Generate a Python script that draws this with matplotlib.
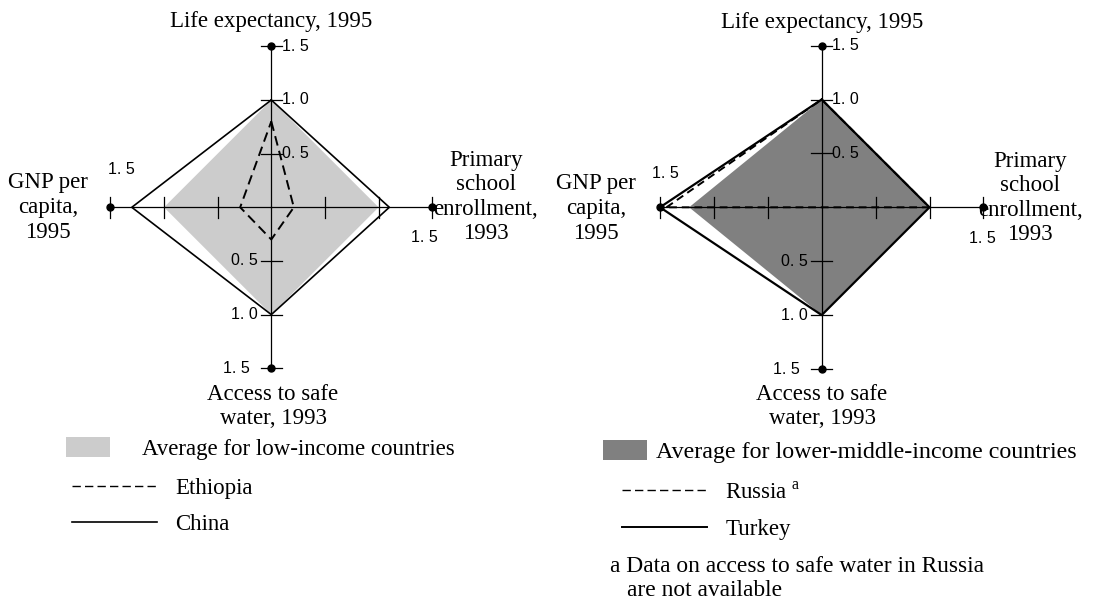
import numpy as np
import matplotlib.pyplot as plt
from matplotlib.lines import Line2D
from matplotlib.patches import Patch

plt.rcParams['font.family'] = 'Liberation Serif'
plt.rcParams['mathtext.fontset'] = 'custom'
plt.rcParams['mathtext.rm'] = 'Liberation Serif'

# order of the spokes: up, right, down, left
spokes = [['Life expectancy, 1995'],
          ['Primary', 'school', 'enrollment,', '1993'],
          ['Access to safe', 'water, 1993'],
          ['GNP per', 'capita,', '1995']]
tick_vals = [0.5, 1.0, 1.5]

low_income_avg = [1.0, 1.0, 1.0, 1.0]
ethiopia = [0.80, 0.21, 0.30, 0.29]
china = [1.0, 1.10, 1.0, 1.30]

lower_middle_avg = [1.0, 1.0, 1.0, 1.23]
russia = [1.0, 1.0, np.nan, 1.44]   # no water data
turkey = [1.0, 1.0, 1.0, 1.5]

W, H, DPI = 1096, 601, 100
FS = 16.5
FS_R = 17.3
TFS = 11.5
fig = plt.figure(figsize=(W / DPI, H / DPI), dpi=DPI)

dirs = np.array([[0, 1], [1, 0], [0, -1], [-1, 0]])


def radar_axes(cx, cy, s, R=2.6):
    ax = fig.add_axes([(cx - R * s) / W, 1 - (cy + R * s) / H, 2 * R * s / W, 2 * R * s / H])
    ax.set_xlim(-R, R)
    ax.set_ylim(-R, R)
    ax.axis('off')
    ax.cx, ax.cy, ax.s = cx, cy, s
    return ax


def to_xy(vals):
    vals = np.asarray(vals, dtype=float)
    ok = ~np.isnan(vals)
    idx = list(range(4))
    if not ok.all():
        # start after the missing spoke so the outline skips it
        miss = int(np.where(~ok)[0][0])
        idx = [(miss + 1 + k) % 4 for k in range(4) if ok[(miss + 1 + k) % 4]]
    idx = idx + [idx[0]]
    x = np.array([vals[i] * dirs[i][0] for i in idx])
    y = np.array([vals[i] * dirs[i][1] for i in idx])
    return x, y


def ptext(ax, px, py, s, **kw):
    # place text by pixel position of the figure
    ax.text((px - ax.cx) / ax.s, (ax.cy - py) / ax.s, s, **kw)


def frame(ax, lab_px, hl_px):
    for d in dirs:
        ax.plot([0, 1.5 * d[0]], [0, 1.5 * d[1]], color='k', lw=0.9, zorder=3)
        ax.plot(1.5 * d[0], 1.5 * d[1], 'o', color='k', ms=5, zorder=4)
        for v in tick_vals:
            px, py = v * d[0], v * d[1]
            ax.plot([px - 0.1 * abs(d[1]), px + 0.1 * abs(d[1])],
                    [py - 0.1 * abs(d[0]), py + 0.1 * abs(d[0])], color='k', lw=0.9, zorder=3)
    for v in tick_vals:
        t = f'{v:.1f}'.replace('.', '. ')
        ax.text(0.1, v, t, ha='left', va='center', family='Liberation Sans', fontsize=TFS)
        ax.text(-0.13 if v < 1.5 else -0.2, -v, t, ha='right', va='center',
                family='Liberation Sans', fontsize=TFS)
    for (px, py) in hl_px:
        ptext(ax, px, py, '1. 5', ha='center', va='center',
              family='Liberation Sans', fontsize=TFS)
    for lines, (px, ys) in zip(spokes, lab_px):
        for line, py in zip(lines, ys):
            ptext(ax, px, py, line, ha='center', va='center', fontsize=FS)


# left chart
axL = radar_axes(271.3, 207.3, 107.3)
x, y = to_xy(low_income_avg)
axL.fill(x, y, color='#cccccc', lw=0, zorder=1)
frame(axL, [(271, [22]), (486, [161, 185, 210, 234]), (273, [394, 418]),
            (48, [183, 208, 233])],
      [(121, 170), (424, 238)])
x, y = to_xy(ethiopia)
axL.plot(x, y, color='k', lw=1.4, ls=(0, (5, 2.8)), zorder=5)
x, y = to_xy(china)
axL.plot(x, y, color='k', lw=1.2, zorder=5)

# right chart
axR = radar_axes(821.7, 207.3, 107.8)
x, y = to_xy(lower_middle_avg)
axR.fill(x, y, color='#808080', lw=0, zorder=1)
frame(axR, [(822, [22]), (1030, [161, 185, 210, 234]), (822, [394, 418]),
            (596, [183, 208, 233])],
      [(665, 173), (982, 238)])
x, y = to_xy(russia)
axR.plot(x, y, color='k', lw=1.4, ls=(0, (4, 2.5)), zorder=5)
x, y = to_xy(turkey)
axR.plot(x, y, color='k', lw=1.6, zorder=6)


def legends(ax, color, label, lines, box_xy, line_xy, fs, pad):
    leg1 = ax.legend(handles=[Patch(color=color, lw=0, label=label)],
                     loc='upper left', bbox_to_anchor=(box_xy[0] / W, 1 - box_xy[1] / H),
                     bbox_transform=fig.transFigure, frameon=False, borderpad=0,
                     borderaxespad=0, handlelength=44 / (fs * 1.389),
                     handleheight=22 / (fs * 1.389),
                     handletextpad=pad / (fs * 1.389), fontsize=fs)
    ax.add_artist(leg1)
    ax.legend(handles=lines, loc='upper left',
              bbox_to_anchor=(line_xy[0] / W, 1 - line_xy[1] / H),
              bbox_transform=fig.transFigure, frameon=False, borderpad=0,
              borderaxespad=0, handlelength=3.7, handletextpad=0.8,
              labelspacing=0.67, fontsize=FS)


legends(axL, '#cccccc', 'Average for low-income countries',
        [Line2D([], [], color='k', lw=1.0, ls=(0, (6, 3)), label='Ethiopia'),
         Line2D([], [], color='k', lw=1.2, label='China')],
        (66, 437), (72, 478), FS, 32)
legends(axR, '#808080', 'Average for lower-middle-income countries',
        [Line2D([], [], color='k', lw=1.0, ls=(0, (6, 3)), label=r'Russia $^{\rm a}$'),
         Line2D([], [], color='k', lw=1.4, label='Turkey')],
        (603, 440), (622, 482), FS_R, 9)

fig.text(610 / W, 1 - 566 / H, 'a Data on access to safe water in Russia', va='center', fontsize=16.9)
fig.text(627 / W, 1 - 591 / H, 'are not available', va='center', fontsize=16.9)

fig.savefig('out.png', dpi=DPI)
